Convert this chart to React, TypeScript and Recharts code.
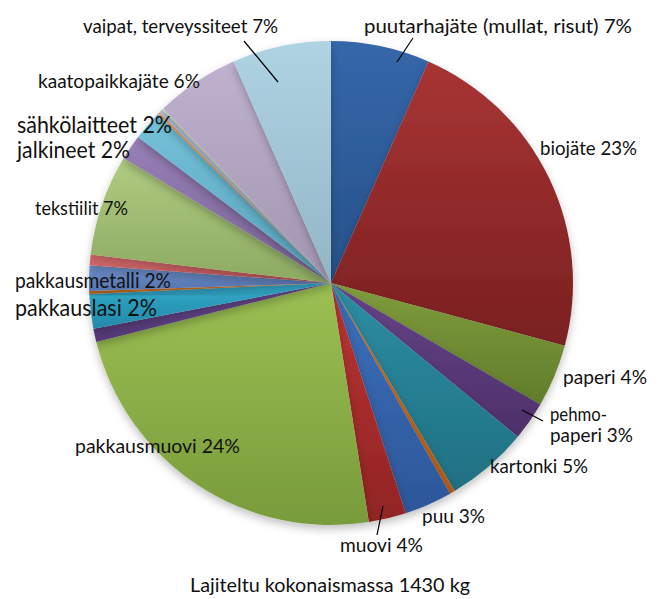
import { PieChart, Pie, Cell } from "recharts";

// slices clockwise from 12 o'clock, shares (%)
const NAMES = [
  "puutarhajäte", "biojäte", "paperi", "pehmopaperi", "kartonki", "muu1", "puu", "muovi",
  "pakkausmuovi", "muu2", "pakkauslasi", "muu3", "pakkausmetalli", "muu4", "tekstiilit",
  "jalkineet", "sähkölaitteet", "muu5", "muu6", "muu7", "kaatopaikkajäte", "vaipat",
];
const SHARES = [
  6.6, 22.6, 4.2, 2.6, 5.5, 0.35, 3.2, 2.5,
  23.6, 0.9, 2.3, 0.2, 1.7, 0.7, 6.75,
  1.7, 2.0, 0.15, 0.25, 0.1, 5.6, 6.6,
];
const TOP = [
  "#3567aa", "#a83434", "#7f9c3c", "#654488", "#2d8ea3", "#d4731f", "#3c6fbb", "#bb3434",
  "#9cc053", "#6c4c92", "#33aacb", "#e58025", "#7092cf", "#dc7070", "#afcc80",
  "#9780b6", "#74c2da", "#f3a566", "#b0c3e4", "#d0e2a8", "#beb2cf", "#aed3e3",
];
const BOTTOM = [
  "#27518a", "#7a2020", "#617d2c", "#4d3069", "#1f7082", "#b55a12", "#2d5799", "#912424",
  "#789b3b", "#533775", "#2389a8", "#c2641a", "#5574ad", "#bb5454", "#8daa62",
  "#7a6397", "#58a4bd", "#d88a4e", "#93a6c6", "#b2c38c", "#a295b2", "#93b6c6",
];

type Lab = { lines: string[]; widths: number[]; x: number; y: number; size: number; lead?: number[] };
const LABELS: { [i: number]: Lab } = {
  0: { lines: ["puutarhajäte (mullat, risut) 7%"], widths: [268], x: 364, y: 33, size: 19, lead: [413, 38, 397, 62] },
  1: { lines: ["biojäte 23%"], widths: [97], x: 540, y: 155, size: 19 },
  2: { lines: ["paperi 4%"], widths: [84], x: 563, y: 384, size: 19 },
  3: { lines: ["pehmo-", "paperi 3%"], widths: [57, 83], x: 550, y: 421, size: 19, lead: [522, 410, 543, 421] },
  4: { lines: ["kartonki 5%"], widths: [98], x: 490, y: 473, size: 19 },
  6: { lines: ["puu 3%"], widths: [63], x: 422, y: 523, size: 19 },
  7: { lines: ["muovi 4%"], widths: [83], x: 340, y: 552, size: 19, lead: [383, 506, 377, 535] },
  8: { lines: ["pakkausmuovi 24%"], widths: [165], x: 75, y: 453, size: 19 },
  10: { lines: ["pakkauslasi 2%"], widths: [142], x: 15, y: 316, size: 22.5 },
  12: { lines: ["pakkausmetalli 2%"], widths: [156], x: 15, y: 288, size: 20.5 },
  14: { lines: ["tekstiilit 7%"], widths: [93], x: 35, y: 215, size: 19 },
  15: { lines: ["jalkineet 2%"], widths: [113], x: 17, y: 158, size: 22.5 },
  16: { lines: ["sähkölaitteet 2%"], widths: [155], x: 17, y: 133, size: 22.5 },
  20: { lines: ["kaatopaikkajäte 6%"], widths: [162], x: 38, y: 88, size: 19 },
  21: { lines: ["vaipat, terveyssiteet 7%"], widths: [195], x: 83, y: 33, size: 19, lead: [244, 41, 278, 82] },
};

const TITLE = "Lajiteltu kokonaismassa 1430 kg";
const FONT = "Lato, 'Open Sans', sans-serif";

const data = NAMES.map((name, i) => ({ name, value: SHARES[i] }));

function renderLabel(props: any) {
  const lab = LABELS[props.index];
  if (!lab) return null;
  return (
    <g>
      {lab.lead && (
        <line x1={lab.lead[0]} y1={lab.lead[1]} x2={lab.lead[2]} y2={lab.lead[3]} stroke="#000" strokeWidth={1.2} />
      )}
      <text x={lab.x} y={lab.y} fill="#111" fontSize={lab.size} fontFamily={FONT}>
        {lab.lines.map((l, k) => (
          <tspan key={k} x={lab.x} dy={k === 0 ? 0 : 21} textLength={lab.widths[k]} lengthAdjust="spacingAndGlyphs">
            {l}
          </tspan>
        ))}
      </text>
    </g>
  );
}

export default function App() {
  return (
    <div style={{ position: "absolute", left: 0, top: 0, width: 668, height: 599, background: "#fff" }}>
      <PieChart width={668} height={599} margin={{ top: 0, right: 0, bottom: 0, left: 0 }}>
        <defs>
          {TOP.map((c, i) => (
            <linearGradient key={i} id={`g${i}`} x1="0" y1="0" x2="0" y2="1">
              <stop offset="0%" stopColor={c} />
              <stop offset="100%" stopColor={BOTTOM[i]} />
            </linearGradient>
          ))}
          <filter id="shadow" x="-10%" y="-10%" width="120%" height="125%">
            <feDropShadow dx="0" dy="4" stdDeviation="4" floodColor="#000" floodOpacity="0.25" />
          </filter>
        </defs>
        <Pie
          data={data}
          dataKey="value"
          nameKey="name"
          cx={331}
          cy={283}
          outerRadius={242}
          startAngle={90}
          endAngle={-270}
          stroke="none"
          label={renderLabel}
          labelLine={false}
          isAnimationActive={false}
          style={{ filter: "url(#shadow)" }}
        >
          {data.map((d, i) => (
            <Cell key={d.name} fill={`url(#g${i})`} />
          ))}
        </Pie>
        <text
          x={190}
          y={592}
          fill="#111"
          fontSize={20}
          fontFamily={FONT}
          textLength={280}
          lengthAdjust="spacingAndGlyphs"
        >
          {TITLE}
        </text>
      </PieChart>
    </div>
  );
}
